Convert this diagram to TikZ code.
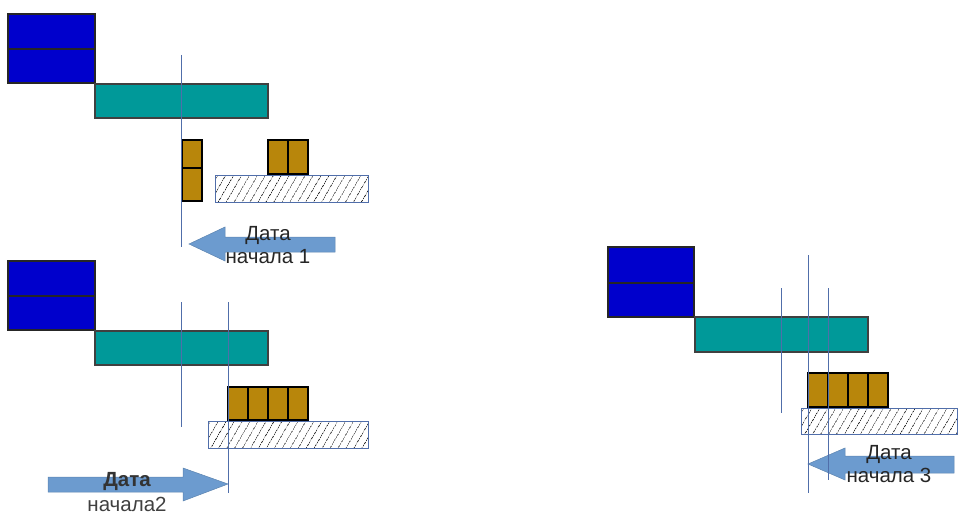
\documentclass[tikz,border=0pt]{standalone}
\usepackage{fontspec}
\setmainfont{Liberation Sans}
\usetikzlibrary{patterns.meta}
\definecolor{blk}{RGB}{0,0,204}
\definecolor{tealc}{RGB}{0,153,153}
\definecolor{goldc}{RGB}{184,134,11}
\definecolor{arrowc}{RGB}{108,155,207}
\definecolor{vline}{RGB}{80,110,170}
\tikzset{
 bluebox/.style={fill=blk, draw=black!85, line width=1.2pt},
 tealbox/.style={fill=tealc, draw=black!75, line width=1.2pt},
 goldbox/.style={fill=goldc, draw=black, line width=1.2pt},
 hatchbox/.style={draw=vline, line width=0.7pt, pattern={Lines[angle=60,distance=6.5pt,line width=0.6pt]}, pattern color=black!85},
 guide/.style={draw=vline, line width=0.9pt},
 bigarrow/.style={fill=arrowc, draw=arrowc!85!black, line width=0.5pt},
 lbl/.style={font=\fontsize{20.5}{23}\selectfont, align=center, text=black!85, inner sep=0pt}
}
\begin{document}
\begin{tikzpicture}[x=1pt,y=-1pt]
\useasboundingbox (0,0) rectangle (958,516);
% ---------- diagram 1 (top left)
\draw[bluebox] (8,14) rectangle (95,49);
\draw[bluebox] (8,49) rectangle (95,83);
\draw[tealbox] (95,84) rectangle (268,118);
\draw[goldbox] (182,140) rectangle (202,168);
\draw[goldbox] (182,168) rectangle (202,201);
\draw[goldbox] (268,140) rectangle (288,174);
\draw[goldbox] (288,140) rectangle (308,174);
\draw[hatchbox] (215,175) rectangle (368,202);
\draw[bigarrow] (189,244) -- (225,227) -- (225,237) -- (335,237) -- (335,252) -- (225,252) -- (225,261) -- cycle;
\draw[guide] (181,55) -- (181,247);
\node[lbl] (t1) at (268,245) {Дата\\начала 1};
% ---------- diagram 2 (bottom left)
\draw[bluebox] (8,261) rectangle (95,296);
\draw[bluebox] (8,296) rectangle (95,330);
\draw[tealbox] (95,331) rectangle (268,365);
\foreach \i in {0,1,2,3}{
  \draw[goldbox] (228+20*\i,387) rectangle (248+20*\i,420);
}
\draw[hatchbox] (208,421) rectangle (368,448);
\draw[bigarrow] (228,484) -- (183,468) -- (183,477) -- (48,477) -- (48,492) -- (183,492) -- (183,501) -- cycle;
\draw[guide] (181,302) -- (181,427);
\draw[guide] (228,302) -- (228,493);
\node[lbl, font=\fontsize{20.5}{23}\selectfont\bfseries, text=black!80] (t2a) at (127,481) {Дата};
\node[lbl, text=black!75] (t2b) at (127,504) {начала2};
% ---------- diagram 3 (right)
\draw[bluebox] (608,247) rectangle (694,283);
\draw[bluebox] (608,283) rectangle (694,317);
\draw[tealbox] (695,317) rectangle (868,352);
\foreach \i in {0,1,2,3}{
  \draw[goldbox] (808+20*\i,373) rectangle (828+20*\i,407);
}
\draw[hatchbox] (801,408) rectangle (957,434);
\draw[bigarrow] (808,464) -- (845,448) -- (845,456) -- (954,456) -- (954,473) -- (845,473) -- (845,480) -- cycle;
\draw[guide] (781,288) -- (781,413);
\draw[guide] (808,255) -- (808,493);
\draw[guide] (828,288) -- (828,480);
\node[lbl] (t3) at (889,464) {Дата\\начала 3};
\end{tikzpicture}
\end{document}
